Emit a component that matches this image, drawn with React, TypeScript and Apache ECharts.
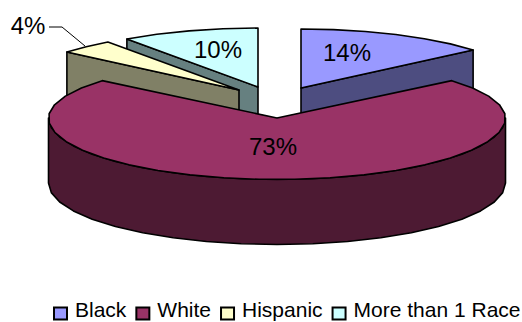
import React, { useEffect, useRef } from "react";
import * as echarts from "echarts";

const categories = ["Black", "White", "Hispanic", "More than 1 Race"];
const values = [14, 73, 4, 10];
const labels = ["14%", "73%", "4%", "10%"];
const topColors = ["#9999ff", "#993366", "#ffffcc", "#ccffff"];
const sideColors = ["#4d4d80", "#4d1a33", "#808066", "#668080"];

const FONT = "'Liberation Sans', Arial, sans-serif";
const DEPTH = 65;
const STEP = 9;
// Per-slice drawing geometry, drawn back to front by z
const layout = [
  { cx: 301, cy: 88, rx: 225, ry: 59, ryBack: 59, face: "end", lx: 347, ly: 52, z: 3 },
  { cx: 277, cy: 118, rx: 228.5, ry: 61.5, ryBack: 58, face: "rim", lx: 273, ly: 146, z: 4 },
  { cx: 239, cy: 90, rx: 225, ry: 59, ryBack: 59, face: "start", lx: 28, ly: 25, z: 2 },
  { cx: 258, cy: 87, rx: 225, ry: 59, ryBack: 59, face: "start", lx: 218, ly: 49, z: 1 },
];
const leader = [[49, 27], [62, 27], [85, 46]];

const total = values.reduce((a, b) => a + b, 0);
const startOf = (i: number) => values.slice(0, i).reduce((a, b) => a + b, 0) / total * 360;

function pt(l: any, deg: number, dy = 0) {
  const r = (deg * Math.PI) / 180;
  const c = Math.cos(r);
  return [l.cx + l.rx * Math.sin(r), l.cy - (c > 0 ? l.ryBack : l.ry) * c + dy];
}
function arc(l: any, a: number, b: number, dy = 0) {
  const out: number[][] = [];
  const n = Math.max(1, Math.round((b - a) / STEP));
  for (let k = 0; k <= n; k++) out.push(pt(l, a + ((b - a) * k) / n, dy));
  return out;
}

function makeRender(i: number) {
  return (_params: any, api: any) => {
    const value = api.value(0);
    const l = layout[i];
    const a0 = startOf(i);
    const a1 = a0 + (value / total) * 360;
    const stroke = { stroke: "#000", lineWidth: 1.6, lineJoin: "round" };
    const children: any[] = [];
    const side = { ...stroke, fill: sideColors[i] };
    if (l.face === "rim") {
      const top = arc(l, 90, 270);
      const bottom = arc(l, 90, 270, DEPTH).reverse();
      children.push({ type: "polygon", shape: { points: [...top, ...bottom] }, style: side });
    } else {
      const edge = l.face === "end" ? a1 : a0;
      const p = pt(l, edge);
      children.push({
        type: "polygon",
        shape: { points: [[l.cx, l.cy], p, [p[0], p[1] + DEPTH], [l.cx, l.cy + DEPTH]] },
        style: side,
      });
    }
    children.push({
      type: "polygon",
      shape: { points: [[l.cx, l.cy], ...arc(l, a0, a1)] },
      style: { ...stroke, fill: topColors[i] },
    });
    children.push({
      type: "text",
      x: l.lx,
      y: l.ly,
      style: {
        text: labels[i],
        align: "center",
        verticalAlign: "middle",
        fontSize: 24,
        fontFamily: FONT,
        fill: "#000",
      },
    });
    if (i === 2) {
      children.push({
        type: "polyline",
        shape: { points: leader },
        style: { stroke: "#000", lineWidth: 1, fill: "none" },
      });
    }
    return { type: "group", children };
  };
}

export default function App() {
  const ref = useRef<HTMLDivElement>(null);
  useEffect(() => {
    const chart = echarts.init(ref.current!, null, { renderer: "svg" });
    chart.setOption({
      animation: false,
      backgroundColor: "#fff",
      legend: {
        left: 53,
        top: 299,
        padding: 0,
        itemGap: 9,
        itemWidth: 13,
        itemHeight: 12,
        icon: "rect",
        formatter: "{a|{name}}",
        data: categories.map((name, i) => ({
          name,
          icon: "rect",
          itemStyle: { color: topColors[i], borderColor: "#000000", borderWidth: 2, borderType: "solid" },
        })),
        textStyle: {
          fontSize: 21,
          fontFamily: FONT,
          color: "#000",
          rich: {
            a: { fontSize: 21, fontFamily: FONT, color: "#000", height: 23, padding: [0, 0, 8, 3] },
          },
        },
      },
      series: categories.map((name, i) => ({
        type: "custom",
        name,
        coordinateSystem: "none",
        z: layout[i].z,
        silent: true,
        itemStyle: { color: topColors[i], borderColor: "#000000", borderWidth: 2 },
        data: [{ name, value: [values[i]] }],
        renderItem: makeRender(i),
      })),
    });
    return () => chart.dispose();
  }, []);
  return <div ref={ref} style={{ position: "fixed", left: 0, top: 0, width: 522, height: 322 }} />;
}
